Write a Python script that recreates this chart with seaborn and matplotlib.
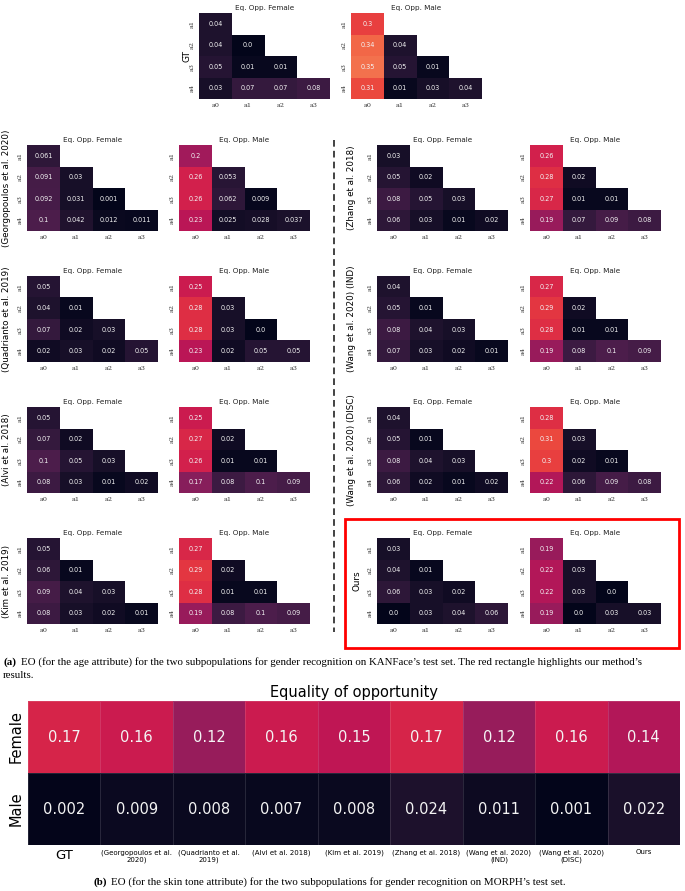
import numpy as np
import matplotlib
matplotlib.use("Agg")
import matplotlib.pyplot as plt
import matplotlib.patches as mpatches
import seaborn as sns

# ---------------- data ----------------
row_labels = ["a1", "a2", "a3", "a4"]
col_labels = ["a0", "a1", "a2", "a3"]

gt_female = [[0.04], [0.04, 0.0], [0.05, 0.01, 0.01], [0.03, 0.07, 0.07, 0.08]]
gt_male = [[0.3], [0.34, 0.04], [0.35, 0.05, 0.01], [0.31, 0.01, 0.03, 0.04]]

georgopoulos_female = [[0.061], [0.091, 0.03], [0.092, 0.031, 0.001], [0.1, 0.042, 0.012, 0.011]]
georgopoulos_male = [[0.2], [0.26, 0.053], [0.26, 0.062, 0.009], [0.23, 0.025, 0.028, 0.037]]
quadrianto_female = [[0.05], [0.04, 0.01], [0.07, 0.02, 0.03], [0.02, 0.03, 0.02, 0.05]]
quadrianto_male = [[0.25], [0.28, 0.03], [0.28, 0.03, 0.0], [0.23, 0.02, 0.05, 0.05]]
alvi_female = [[0.05], [0.07, 0.02], [0.1, 0.05, 0.03], [0.08, 0.03, 0.01, 0.02]]
alvi_male = [[0.25], [0.27, 0.02], [0.26, 0.01, 0.01], [0.17, 0.08, 0.1, 0.09]]
kim_female = [[0.05], [0.06, 0.01], [0.09, 0.04, 0.03], [0.08, 0.03, 0.02, 0.01]]
kim_male = [[0.27], [0.29, 0.02], [0.28, 0.01, 0.01], [0.19, 0.08, 0.1, 0.09]]
zhang_female = [[0.03], [0.05, 0.02], [0.08, 0.05, 0.03], [0.06, 0.03, 0.01, 0.02]]
zhang_male = [[0.26], [0.28, 0.02], [0.27, 0.01, 0.01], [0.19, 0.07, 0.09, 0.08]]
wang_ind_female = [[0.04], [0.05, 0.01], [0.08, 0.04, 0.03], [0.07, 0.03, 0.02, 0.01]]
wang_ind_male = [[0.27], [0.29, 0.02], [0.28, 0.01, 0.01], [0.19, 0.08, 0.1, 0.09]]
wang_disc_female = [[0.04], [0.05, 0.01], [0.08, 0.04, 0.03], [0.06, 0.02, 0.01, 0.02]]
wang_disc_male = [[0.28], [0.31, 0.03], [0.3, 0.02, 0.01], [0.22, 0.06, 0.09, 0.08]]
ours_female = [[0.03], [0.04, 0.01], [0.06, 0.03, 0.02], [0.0, 0.03, 0.04, 0.06]]
ours_male = [[0.19], [0.22, 0.03], [0.22, 0.03, 0.0], [0.19, 0.0, 0.03, 0.03]]

left_methods = ["(Georgopoulos et al. 2020)", "(Quadrianto et al. 2019)",
                "(Alvi et al. 2018)", "(Kim et al. 2019)"]
right_methods = ["(Zhang et al. 2018)", "(Wang et al. 2020) (IND)",
                 "(Wang et al. 2020) (DISC)", "Ours"]

bottom_methods = ["GT", "(Georgopoulos et al.\n2020)", "(Quadrianto et al.\n2019)",
                  "(Alvi et al. 2018)", "(Kim et al. 2019)", "(Zhang et al. 2018)",
                  "(Wang et al. 2020)\n(IND)", "(Wang et al. 2020)\n(DISC)", "Ours"]
bottom_rows = ["Female", "Male"]
bottom_female = [0.17, 0.16, 0.12, 0.16, 0.15, 0.17, 0.12, 0.16, 0.14]
bottom_male = [0.002, 0.009, 0.008, 0.007, 0.008, 0.024, 0.011, 0.001, 0.022]

# ---------------- layout helpers ----------------
W, H = 685, 891
fig = plt.figure(figsize=(W / 100, H / 100), dpi=100)
fig.patch.set_facecolor("white")


def rect(x, y, w, h):
    return [x / W, 1 - (y + h) / H, w / W, h / H]


def fx(x):
    return x / W


def fy(y):
    return 1 - y / H


def panel(x, y, rows, title, w=131, h=86):
    ax = fig.add_axes(rect(x, y, w, h))
    M = np.full((4, 4), np.nan)
    for i, r in enumerate(rows):
        for j, v in enumerate(r):
            M[i, j] = v
    mask = np.isnan(M)
    annot = np.where(mask, "", np.vectorize(lambda v: str(v))(np.nan_to_num(M)))
    sns.heatmap(M, mask=mask, ax=ax, cmap="rocket", vmin=0, vmax=0.5, cbar=False,
                annot=annot, fmt="", annot_kws=dict(size=4.7, color="#f2f2f2"),
                xticklabels=col_labels, yticklabels=row_labels)
    ax.set_title(title, fontsize=5.2, pad=2.5, color="#222222")
    ax.tick_params(length=0, pad=3)
    for t in ax.get_xticklabels():
        t.set_fontsize(4.6)
        t.set_family("DejaVu Serif")
        t.set_color("#333333")
    for t in ax.get_yticklabels():
        t.set_fontsize(4.6)
        t.set_family("DejaVu Serif")
        t.set_rotation(90)
        t.set_va("center")
        t.set_color("#333333")
    return ax


# ---------------- GT row ----------------
panel(199, 13, gt_female, "Eq. Opp. Female")
panel(351, 13, gt_male, "Eq. Opp. Male")
fig.text(fx(187), fy(56), "GT", rotation=90, ha="center", va="center", fontsize=6.5)

# ---------------- method grid ----------------
tops = [145, 276, 407, 538]
left_data = [(georgopoulos_female, georgopoulos_male), (quadrianto_female, quadrianto_male),
             (alvi_female, alvi_male), (kim_female, kim_male)]
right_data = [(zhang_female, zhang_male), (wang_ind_female, wang_ind_male),
              (wang_disc_female, wang_disc_male), (ours_female, ours_male)]

for top, name, (f, m) in zip(tops, left_methods, left_data):
    panel(27, top, f, "Eq. Opp. Female")
    panel(179, top, m, "Eq. Opp. Male")
    fig.text(fx(7), fy(top + 43), name, rotation=90, ha="center", va="center", fontsize=6.3)

for top, name, (f, m) in zip(tops, right_methods, right_data):
    panel(377, top, f, "Eq. Opp. Female")
    panel(530, top, m, "Eq. Opp. Male")
    xlab = 357 if name == "Ours" else 351
    fig.text(fx(xlab), fy(top + 43), name, rotation=90, ha="center", va="center", fontsize=6.3)

# dashed separator
fig.add_artist(plt.Line2D([fx(334), fx(334)], [fy(140), fy(632)], color="#222222",
                          linestyle=(0, (4, 2.5)), linewidth=1.2))
# red rectangle
fig.add_artist(mpatches.Rectangle((fx(345), fy(648)), (679 - 345) / W, (648 - 519) / H,
                                  fill=False, edgecolor="red", linewidth=2.0))

# caption (a)
fig.text(fx(3), fy(662), "(a)", fontsize=7.8, fontweight="bold", family="Liberation Serif",
         ha="left", va="center")
fig.text(fx(21), fy(662),
         "EO (for the age attribute) for the two subpopulations for gender recognition on KANFace\u2019s test set. "
         "The red rectangle highlights our method\u2019s",
         fontsize=7.8, family="Liberation Serif", ha="left", va="center")
fig.text(fx(3), fy(676), "results.", fontsize=7.8, family="Liberation Serif", ha="left", va="center")

# ---------------- bottom heatmap ----------------
axb = fig.add_axes(rect(28, 701, 652, 144))
B = np.array([bottom_female, bottom_male])
sns.heatmap(B, ax=axb, cmap="rocket", vmin=0, vmax=0.32, cbar=False,
            annot=np.vectorize(lambda v: str(v))(B), fmt="",
            annot_kws=dict(size=10.5, color="#f4f4f4"),
            xticklabels=bottom_methods, yticklabels=bottom_rows,
            linewidths=0.5, linecolor=(1, 1, 1, 0.12))
axb.tick_params(length=0)
for t in axb.get_yticklabels():
    t.set_fontsize(10.5)
    t.set_rotation(90)
    t.set_va("center")
for i, t in enumerate(axb.get_xticklabels()):
    t.set_rotation(0)
    t.set_ha("center")
    t.set_va("top")
    t.set_fontsize(9.5 if i == 0 else 5)
    t.set_linespacing(1.1)
axb.tick_params(axis="x", pad=3)
axb.tick_params(axis="y", pad=3)
axb.set_title("Equality of opportunity", fontsize=10.5, pad=3)

fig.text(fx(93), fy(882), "(b)", fontsize=7.8, fontweight="bold", family="Liberation Serif",
         ha="left", va="center")
fig.text(fx(111), fy(882),
         "EO (for the skin tone attribute) for the two subpopulations for gender recognition on MORPH\u2019s test set.",
         fontsize=7.8, family="Liberation Serif", ha="left", va="center")

fig.savefig("out.png", dpi=100, facecolor="white")
